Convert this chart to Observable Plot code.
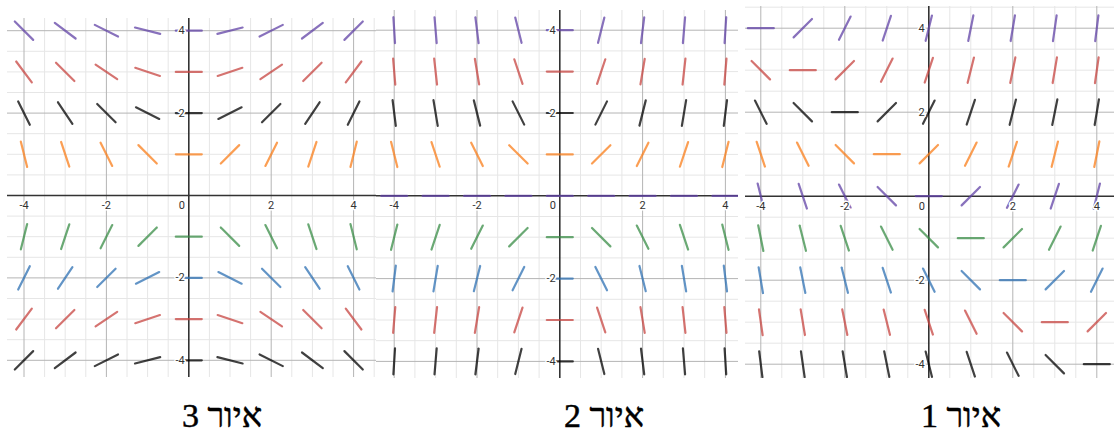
<!DOCTYPE html>
<html>
<head>
<meta charset="utf-8">
<script src="https://cdn.jsdelivr.net/npm/d3@7"></script>
<script src="https://cdn.jsdelivr.net/npm/@observablehq/plot@0.6"></script>
<style>
  html, body { margin: 0; padding: 0; background: #fff; }
  #wrap { position: relative; width: 1114px; height: 434px; overflow: hidden; background: #fff; }
  .panel { position: absolute; background: #fff; }
  .cap { position: absolute; font-family: "Liberation Serif", "DejaVu Serif", serif; font-weight: normal;
         font-size: 34px; line-height: 34px; color: #000; white-space: nowrap; transform: translateX(-50%);
         -webkit-text-stroke: 0.5px #000; }
</style>
</head>
<body>
<div id="wrap"></div>
<script>
// ---- data ----
const xValues = [-4, -3, -2, -1, 0, 1, 2, 3, 4];
const yValues = [4, 3, 2, 1, 0, -1, -2, -3, -4];
const rowColors = ["#6042a6", "#c74440", "#000000", "#fa7e19", "#6042a6", "#388c46", "#2d70b3", "#c74440", "#000000"];
const tickLabels = [-4, -2, 2, 4];

// slopes, one row per y value (top to bottom), one entry per x value (left to right)
const slopesFig3 = [
  [-1, -0.75, -0.5, -0.25, 0, 0.25, 0.5, 0.75, 1],
  [-1.33, -1, -0.67, -0.33, 0, 0.33, 0.67, 1, 1.33],
  [-2, -1.5, -1, -0.5, 0, 0.5, 1, 1.5, 2],
  [-4, -3, -2, -1, 0, 1, 2, 3, 4],
  null,
  [4, 3, 2, 1, 0, -1, -2, -3, -4],
  [2, 1.5, 1, 0.5, 0, -0.5, -1, -1.5, -2],
  [1.33, 1, 0.67, 0.33, 0, -0.33, -0.67, -1, -1.33],
  [1, 0.75, 0.5, 0.25, 0, -0.25, -0.5, -0.75, -1]
];
const slopesFig2 = [
  [-16, -12, -8, -4, 0, 4, 8, 12, 16],
  [-12, -9, -6, -3, 0, 3, 6, 9, 12],
  [-8, -6, -4, -2, 0, 2, 4, 6, 8],
  [-4, -3, -2, -1, 0, 1, 2, 3, 4],
  [0, 0, 0, 0, 0, 0, 0, 0, 0],
  [4, 3, 2, 1, 0, -1, -2, -3, -4],
  [8, 6, 4, 2, 0, -2, -4, -6, -8],
  [12, 9, 6, 3, 0, -3, -6, -9, -12],
  [16, 12, 8, 4, 0, -4, -8, -12, -16]
];
const slopesFig1 = [
  [0, 1, 2, 3, 4, 5, 6, 7, 8],
  [-1, 0, 1, 2, 3, 4, 5, 6, 7],
  [-2, -1, 0, 1, 2, 3, 4, 5, 6],
  [-3, -2, -1, 0, 1, 2, 3, 4, 5],
  [-4, -3, -2, -1, 0, 1, 2, 3, 4],
  [-5, -4, -3, -2, -1, 0, 1, 2, 3],
  [-6, -5, -4, -3, -2, -1, 0, 1, 2],
  [-7, -6, -5, -4, -3, -2, -1, 0, 1],
  [-8, -7, -6, -5, -4, -3, -2, -1, 0]
];
const captions = ["איור 3", "איור 2", "איור 1"];

// ---- layout ----
const panels = [
  { slopes: slopesFig3, left: 7,   top: 18, x0: 188.3, y0: 195.0, ppu: 41.2, width: 371, height: 359, cap: captions[0], capX: 222 },
  { slopes: slopesFig2, left: 376, top: 10, x0: 559.3, y0: 195.3, ppu: 41.4, width: 362, height: 368, cap: captions[1], capX: 604 },
  { slopes: slopesFig1, left: 745, top: 6,  x0: 928.3, y0: 195.7, ppu: 42.0, width: 369, height: 372, cap: captions[2], capX: 961 }
];

const wrap = document.getElementById("wrap");
const segHalfPx = 13;

function range(a, b, s) { const out = []; for (let v = a; v <= b + 1e-9; v += s) out.push(+v.toFixed(3)); return out; }

for (const p of panels) {
  const xd = [(p.left - p.x0) / p.ppu, (p.left + p.width - p.x0) / p.ppu];
  const yd = [-(p.top + p.height - p.y0) / p.ppu, (p.y0 - p.top) / p.ppu];
  const h = segHalfPx / p.ppu;

  const segs = [];
  yValues.forEach((yv, i) => {
    const row = p.slopes[i];
    if (!row) return;
    row.forEach((m, j) => {
      const a = Math.atan(m);
      segs.push({ x: xValues[j], y: yv, m, c: rowColors[i],
        x1: xValues[j] - h * Math.cos(a), y1: yv - h * Math.sin(a),
        x2: xValues[j] + h * Math.cos(a), y2: yv + h * Math.sin(a) });
    });
  });

  const minorX = range(Math.ceil(xd[0] * 2) / 2, xd[1], 0.5).filter(v => v % 2 !== 0);
  const minorY = range(Math.ceil(yd[0] * 2) / 2, yd[1], 0.5).filter(v => v % 2 !== 0);
  const majorX = range(Math.ceil(xd[0] / 2) * 2, xd[1], 2).filter(v => v !== 0);
  const majorY = range(Math.ceil(yd[0] / 2) * 2, yd[1], 2).filter(v => v !== 0);

  const labelStyle = { fontSize: 11, fill: "#333", stroke: "#fff", strokeWidth: 3 };
  const chart = Plot.plot({
    width: p.width,
    height: p.height,
    margin: 0,
    style: { background: "#fff", fontFamily: "Roboto, 'Noto Sans', sans-serif" },
    x: { domain: xd, axis: null },
    y: { domain: yd, axis: null },
    marks: [
      Plot.ruleX(minorX, { stroke: "#e6e6e6", strokeWidth: 1 }),
      Plot.ruleY(minorY, { stroke: "#e6e6e6", strokeWidth: 1 }),
      Plot.ruleX(majorX, { stroke: "#b4b4b4", strokeWidth: 1 }),
      Plot.ruleY(majorY, { stroke: "#b4b4b4", strokeWidth: 1 }),
      Plot.ruleX([0], { stroke: "#333", strokeWidth: 1.6 }),
      Plot.ruleY([0], { stroke: "#333", strokeWidth: 1.6 }),
      Plot.link(segs, { x1: "x1", y1: "y1", x2: "x2", y2: "y2", stroke: "c", strokeWidth: 2.2, strokeOpacity: 0.75, strokeLinecap: "round" }),
      Plot.text(tickLabels, { x: d => d, y: () => 0, text: d => String(d), dy: 10, textAnchor: "middle", ...labelStyle }),
      Plot.text(tickLabels, { x: () => 0, y: d => d, text: d => String(d), dx: -4, textAnchor: "end", ...labelStyle }),
      Plot.text([0], { x: () => 0, y: () => 0, text: () => "0", dx: -7, dy: 10, textAnchor: "middle", ...labelStyle })
    ]
  });
  const div = document.createElement("div");
  div.className = "panel";
  div.style.left = p.left + "px";
  div.style.top = p.top + "px";
  div.appendChild(chart);
  wrap.appendChild(div);

  const cap = document.createElement("div");
  cap.className = "cap";
  cap.dir = "rtl";
  cap.textContent = p.cap;
  cap.style.left = p.capX + "px";
  cap.style.top = "399px";
  wrap.appendChild(cap);
}
</script>
</body>
</html>
